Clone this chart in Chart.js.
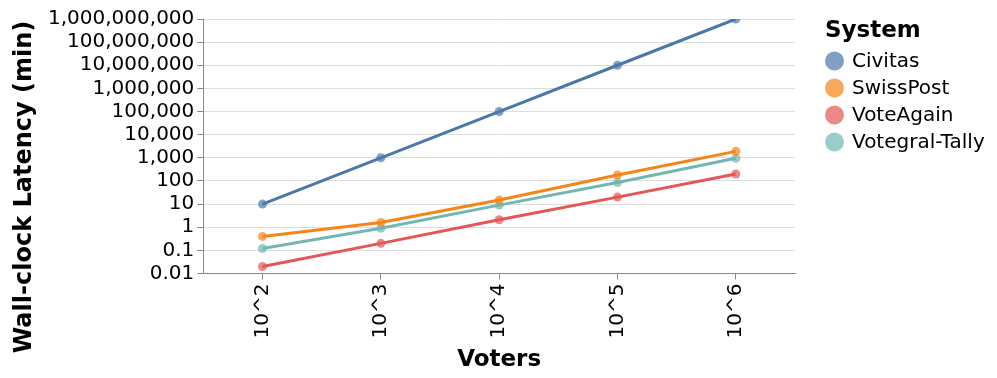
<!DOCTYPE html>
<html>
<head>
<meta charset="utf-8">
<script src="https://cdn.jsdelivr.net/npm/chart.js@4"></script>
<style>
  html, body { margin: 0; background: #fff; }
</style>
</head>
<body>
<canvas id="chart" width="997" height="378"></canvas>
<script>
const voters = ['10^2', '10^3', '10^4', '10^5', '10^6'];
const civitas = [10, 1000, 100000, 10000000, 1000000000];
const swissPost = [0.4, 1.6, 15, 180, 1900];
const voteAgain = [0.02, 0.2, 2.1, 20, 200];
const votegralTally = [0.12, 0.9, 9, 85, 950];
const yTicks = [0.01, 0.1, 1, 10, 100, 1e3, 1e4, 1e5, 1e6, 1e7, 1e8, 1e9];

const font = 'DejaVu Sans';

function series(label, data, color, fill) {
  return {
    label: label,
    data: data,
    borderColor: color,
    backgroundColor: fill,
    borderWidth: 3,
    pointRadius: 4.5,
    pointHoverRadius: 4.5,
    pointBorderWidth: 0,
    pointBackgroundColor: fill,
    tension: 0
  };
}

// y title and legend, drawn at the spots the reference uses
const extras = {
  id: 'extras',
  afterDraw(chart) {
    const c = chart.ctx;
    c.save();
    c.fillStyle = '#000';
    c.textBaseline = 'middle';

    c.save();
    c.translate(25, 187);
    c.rotate(-Math.PI / 2);
    c.textAlign = 'center';
    c.font = 'bold 24px "' + font + '"';
    c.fillText('Wall-clock Latency (min)', 0, 0);
    c.restore();

    c.textAlign = 'left';
    c.font = 'bold 23px "' + font + '"';
    c.fillText('System', 825, 31);

    c.font = '20px "' + font + '"';
    chart.data.datasets.forEach((ds, i) => {
      const y = 61 + i * 27;
      c.fillStyle = ds.backgroundColor;
      c.beginPath();
      c.arc(834.5, y, 9.5, 0, Math.PI * 2);
      c.fill();
      c.fillStyle = '#000';
      c.fillText(ds.label, 852, y + 1);
    });
    c.restore();
  }
};

const ctx = document.getElementById('chart');

new Chart(ctx, {
  type: 'line',
  data: {
    labels: voters,
    datasets: [
      series('Civitas', civitas, '#4c78a8', 'rgba(76,120,168,0.7)'),
      series('SwissPost', swissPost, '#f58518', 'rgba(245,133,24,0.7)'),
      series('VoteAgain', voteAgain, '#e45756', 'rgba(228,87,86,0.7)'),
      series('Votegral-Tally', votegralTally, '#72b7b2', 'rgba(114,183,178,0.7)')
    ]
  },
  plugins: [extras],
  options: {
    responsive: false,
    animation: false,
    layout: { padding: { left: 45, top: 19, right: 202, bottom: 4 } },
    plugins: {
      tooltip: { enabled: false },
      legend: { display: false }
    },
    scales: {
      x: {
        offset: true,
        grid: {
          drawOnChartArea: false,
          drawTicks: true,
          tickLength: 6,
          tickColor: '#888'
        },
        border: { color: '#888' },
        ticks: {
          minRotation: 90,
          maxRotation: 90,
          color: '#000',
          font: { family: font, size: 20 },
          padding: 4
        },
        title: {
          display: true,
          text: 'Voters',
          color: '#000',
          font: { family: font, size: 23, weight: 'bold' },
          padding: { top: 4, bottom: 0 }
        }
      },
      y: {
        type: 'logarithmic',
        min: 0.01,
        max: 1e9,
        afterBuildTicks: function(scale) {
          scale.ticks = yTicks.map(v => ({ value: v }));
        },
        grid: {
          color: '#ddd',
          tickColor: '#888',
          tickLength: 6
        },
        border: { color: '#888' },
        ticks: {
          autoSkip: false,
          color: '#000',
          font: { family: font, size: 20 },
          padding: 3,
          callback: function(v) {
            return v >= 1 ? v.toLocaleString('en-US') : String(v);
          }
        }
      }
    }
  }
});
</script>
</body>
</html>
